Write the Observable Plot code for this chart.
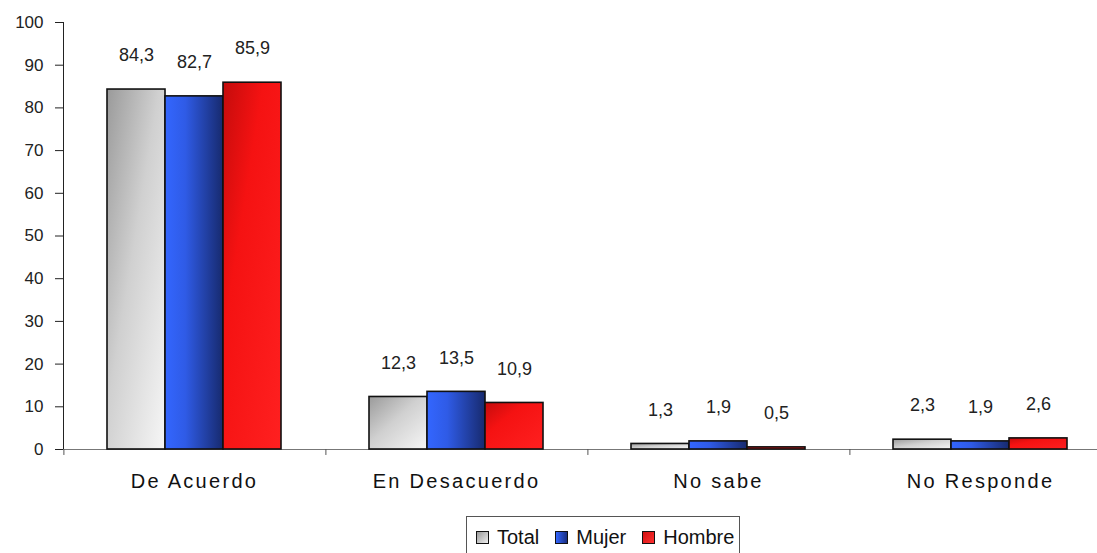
<!DOCTYPE html>
<html>
<head>
<meta charset="utf-8">
<script src="https://cdn.jsdelivr.net/npm/d3@7"></script>
<script src="https://cdn.jsdelivr.net/npm/@observablehq/plot@0.6"></script>
<style>
  html, body { margin: 0; padding: 0; background: #fff; overflow: hidden; }
  body { width: 1097px; height: 553px; position: relative; font-family: "Liberation Sans", Arial, sans-serif; }
  #chart { position: absolute; left: 0; top: 0; }
  g[aria-label="fx-axis tick label"] text, g[aria-label="fx-axis"] text { font-size: 20px; letter-spacing: 2.3px; fill: #111; }
  #legend { position: absolute; left: 466px; top: 516px; width: 274px; height: 50px; border: 1px solid #555; background: #fff;
            display: flex; align-items: flex-start; padding-top: 8px; box-sizing: border-box; padding-left: 9px;
            font-size: 20px; color: #111; }
  .item { display: flex; align-items: center; margin-right: 16px; height: 24px; }
  .sw { width: 11px; height: 11px; border: 1px solid #111; margin-right: 8px; }
</style>
</head>
<body>
<div id="chart"></div>
<div id="legend"></div>
<script>
const categories = ["De Acuerdo", "En Desacuerdo", "No sabe", "No Responde"];
const series = ["Total", "Mujer", "Hombre"];
const total  = [84.3, 12.3, 1.3, 2.3];
const mujer  = [82.7, 13.5, 1.9, 1.9];
const hombre = [85.9, 10.9, 0.5, 2.6];
const yTicks = [0, 10, 20, 30, 40, 50, 60, 70, 80, 90, 100];

const valuesBySeries = {Total: total, Mujer: mujer, Hombre: hombre};
const fills = {Total: "url(#gTotal)", Mujer: "url(#gMujer)", Hombre: "url(#gHombre)"};
const rows = [];
categories.forEach((c, i) => series.forEach(s => rows.push({category: c, series: s, value: valuesBySeries[s][i]})));
const fmt = v => d3.format(".1f")(v).replace(".", ",");

const barMarks = series.map(s => Plot.barY(rows.filter(d => d.series === s), {
  fx: "category", x: "series", y: "value",
  fill: fills[s], stroke: "#111", strokeWidth: 1.6
}));

const chart = Plot.plot({
  width: 1097,
  height: 505,
  marginLeft: 61,
  marginRight: 0,
  marginTop: 22,
  marginBottom: 56,
  style: {fontFamily: "'Liberation Sans', Arial, sans-serif", fontSize: "17px", color: "#222", background: "#fff"},
  fx: {domain: categories, range: [61, 1112], padding: 0, axis: "bottom", tickSize: 0, tickPadding: 24, label: null},
  x: {domain: series, paddingInner: 0, paddingOuter: 0.727, axis: null},
  y: {domain: [0, 100], ticks: yTicks, tickSize: 8, tickPadding: 12, line: true, label: null, tickFormat: d => d},
  marks: [
    Plot.ruleY([0], {stroke: "#777", strokeWidth: 1.2}),
    Plot.ruleX(categories, {fx: d => d, x: () => series[0], dx: -72.6, y1: 0, y2: -1.4, stroke: "#555"}),
    ...barMarks,
    Plot.text(rows, {fx: "category", x: "series", y: "value", text: d => fmt(d.value), dy: -34,
      fontSize: 18, fill: "#222"})
  ]
});

chart.insertAdjacentHTML("afterbegin", `
<defs>
  <linearGradient id="gTotal" x1="0" y1="0" x2="1" y2="1">
    <stop offset="0" stop-color="#9a9a9a"/>
    <stop offset="0.45" stop-color="#d0d0d0"/>
    <stop offset="1" stop-color="#f6f6f6"/>
  </linearGradient>
  <linearGradient id="gMujer" x1="0" y1="0" x2="1" y2="0">
    <stop offset="0" stop-color="#3366ff"/>
    <stop offset="0.35" stop-color="#2f5be6"/>
    <stop offset="1" stop-color="#172a6e"/>
  </linearGradient>
  <linearGradient id="gHombre" x1="0" y1="0" x2="1" y2="1">
    <stop offset="0" stop-color="#c40c0c"/>
    <stop offset="0.35" stop-color="#f51212"/>
    <stop offset="1" stop-color="#ff2020"/>
  </linearGradient>
</defs>`);
document.getElementById("chart").appendChild(chart);

const legend = document.getElementById("legend");
const swatchBg = {
  Total: "linear-gradient(135deg, #9a9a9a, #eeeeee)",
  Mujer: "linear-gradient(90deg, #3366ff, #1a2e80)",
  Hombre: "linear-gradient(135deg, #d01010, #ff3030)"
};
series.forEach(s => {
  const it = document.createElement("div");
  it.className = "item";
  const sw = document.createElement("div");
  sw.className = "sw";
  sw.style.background = swatchBg[s];
  const t = document.createElement("span");
  t.textContent = s;
  it.appendChild(sw); it.appendChild(t);
  legend.appendChild(it);
});
</script>
</body>
</html>
